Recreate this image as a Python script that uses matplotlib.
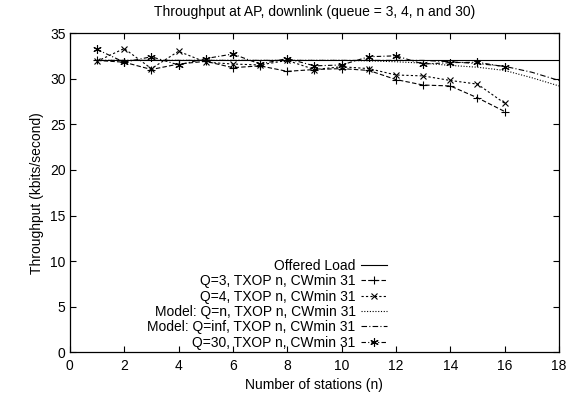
import matplotlib
matplotlib.use("Agg")
import matplotlib.pyplot as plt

plt.rcParams['font.family'] = ['Liberation Sans', 'DejaVu Sans']

n_all = list(range(1, 19))
n_sim = list(range(1, 17))

offered = [32.0] * 18
q3 = [32.0, 31.8, 31.0, 31.6, 31.9, 31.2, 31.4, 30.8, 31.0, 31.1, 30.9, 29.9, 29.3, 29.2, 27.9, 26.4]
q4 = [31.9, 33.3, 31.1, 33.0, 31.8, 31.6, 31.5, 32.0, 31.0, 31.3, 31.1, 30.4, 30.3, 29.8, 29.4, 27.3]
model_qn = [32.0, 32.0, 32.0, 32.0, 32.0, 32.0, 32.0, 32.0, 32.0, 32.0, 31.95, 31.85, 31.7, 31.45, 31.25, 30.9, 30.1, 29.2]
model_qinf = [32.0, 32.0, 32.0, 32.0, 32.0, 32.0, 32.0, 32.0, 32.0, 32.0, 32.0, 32.0, 32.0, 31.85, 31.65, 31.35, 30.7, 29.8]
q30 = [33.2, 31.8, 32.4, 31.5, 32.2, 32.7, 31.6, 32.2, 31.4, 31.5, 32.4, 32.5, 31.6, 31.75, 31.8, 31.3]

labels = ["Offered Load",
          "Q=3, TXOP n, CWmin 31",
          "Q=4, TXOP n, CWmin 31",
          "Model: Q=n, TXOP n, CWmin 31",
          "Model: Q=inf, TXOP n, CWmin 31",
          "Q=30, TXOP n, CWmin 31"]

fs = 10
fig = plt.figure(figsize=(5.82, 4.01), dpi=100)
ax = fig.add_axes([0.120, 0.121, 0.8405, 0.7967])

lw = 0.8
ax.plot(n_all, offered, color='black', lw=lw, ls='-', label=labels[0])
ax.plot(n_sim, q3, color='black', lw=lw, ls=(0, (4, 2)), marker='+', ms=6, mew=0.8, label=labels[1])
ax.plot(n_sim, q4, color='black', lw=lw, ls=(0, (2, 2)), marker='x', ms=5, mew=0.8, label=labels[2])
ax.plot(n_all, model_qn, color='black', lw=lw, ls=(0, (1, 1.5)), label=labels[3])
ax.plot(n_all, model_qinf, color='black', lw=lw, ls=(0, (5, 2, 1, 2)), label=labels[4])
ax.plot(n_sim, q30, color='black', lw=lw, ls=(0, (4, 2, 1, 2)), marker=(6, 2, 0), ms=6, mew=0.8, label=labels[5])

ax.set_xlim(0, 18)
ax.set_ylim(0, 35)
ax.set_xticks(range(0, 19, 2))
ax.set_yticks(range(0, 36, 5))
ax.tick_params(direction='in', top=True, right=True, labelsize=fs, length=4, width=0.8)
ax.tick_params(axis='x', pad=5)
ax.tick_params(axis='y', pad=3)
for s in ax.spines.values():
    s.set_linewidth(0.9)

ax.set_xlabel("Number of stations (n)", fontsize=fs, labelpad=3)
ax.set_ylabel("Throughput (kbits/second)", fontsize=fs, labelpad=4)
ax.set_title("Throughput at AP, downlink (queue = 3, 4, n and 30)", fontsize=fs, pad=12)

leg = ax.legend(loc='lower right', bbox_to_anchor=(0.655, 0.0), frameon=False,
                markerfirst=False, fontsize=fs, handlelength=1.9, handletextpad=0.4,
                labelspacing=0.1, borderaxespad=0.0, borderpad=0.2)

fig.savefig("out.png", dpi=100)
